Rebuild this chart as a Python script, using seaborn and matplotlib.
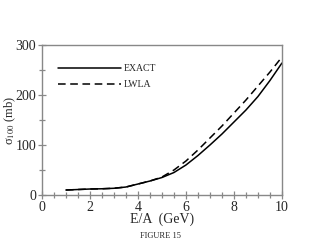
import matplotlib
matplotlib.use('Agg')
import matplotlib.pyplot as plt
import seaborn as sns
import pandas as pd

# значення
energy = [1, 1.5, 2, 2.5, 3, 3.5, 4, 4.5, 5, 5.5, 6, 6.5, 7, 7.5, 8, 8.5, 9, 9.5, 10]
sigma_exact = [10, 11, 12, 12.5, 13.5, 16, 22, 28, 35, 45, 60, 79, 100, 122, 146, 170, 197, 229, 264]
sigma_lwla = [10, 11, 12, 12.5, 13.5, 16, 22, 28, 36, 50, 68, 90, 114, 138, 164, 190, 218, 246, 276]

df = pd.concat([
    pd.DataFrame({'E': energy, 'sigma': sigma_exact, 'series': 'EXACT'}),
    pd.DataFrame({'E': energy, 'sigma': sigma_lwla, 'series': 'LWLA'}),
])

sns.set_style('white')
plt.rcParams['font.family'] = ['Liberation Serif', 'DejaVu Serif']
plt.rcParams['mathtext.fontset'] = 'stix'

fig = plt.figure(figsize=(3.2, 2.45), dpi=100)
ax = fig.add_axes([0.131, 0.204, 0.75, 0.612])

sns.lineplot(data=df, x='E', y='sigma', style='series', color='black',
             dashes={'EXACT': '', 'LWLA': (5, 3)}, linewidth=1.1, ax=ax)

ax.set_xlim(0, 10)
ax.set_ylim(0, 300)
ax.set_xticks([0, 2, 4, 6, 8, 10])
ax.set_xticks([i * 0.5 for i in range(21)], minor=True)
ax.set_yticks([0, 100, 200, 300])
ax.set_yticks([50, 150, 250], minor=True)
ax.tick_params(which='both', direction='inout', color='#888888', labelsize=10, pad=1)
ax.tick_params(which='major', length=6, width=0.9)
ax.tick_params(which='minor', length=4, width=0.9)
ax.tick_params(axis='y', which='both', left=True)
ax.tick_params(axis='x', which='both', bottom=True)
for sp in ax.spines.values():
    sp.set_color('#888888')
    sp.set_linewidth(1.0)

ax.set_xlabel('E/A  (GeV)', fontsize=10, labelpad=-1)
ax.set_ylabel('σ$_{100}$ (mb)', fontsize=9)
ax.yaxis.set_label_coords(-0.1, 0.5)

leg = ax.legend(loc='upper left', frameon=False, fontsize=7, handlelength=6.5,
                bbox_to_anchor=(0.03, 0.93), labelspacing=0.7, handletextpad=0.3)

fig.text(0.5, 0.03, 'FIGURE 15', ha='center', fontsize=6)

fig.savefig('out.png', dpi=100)
